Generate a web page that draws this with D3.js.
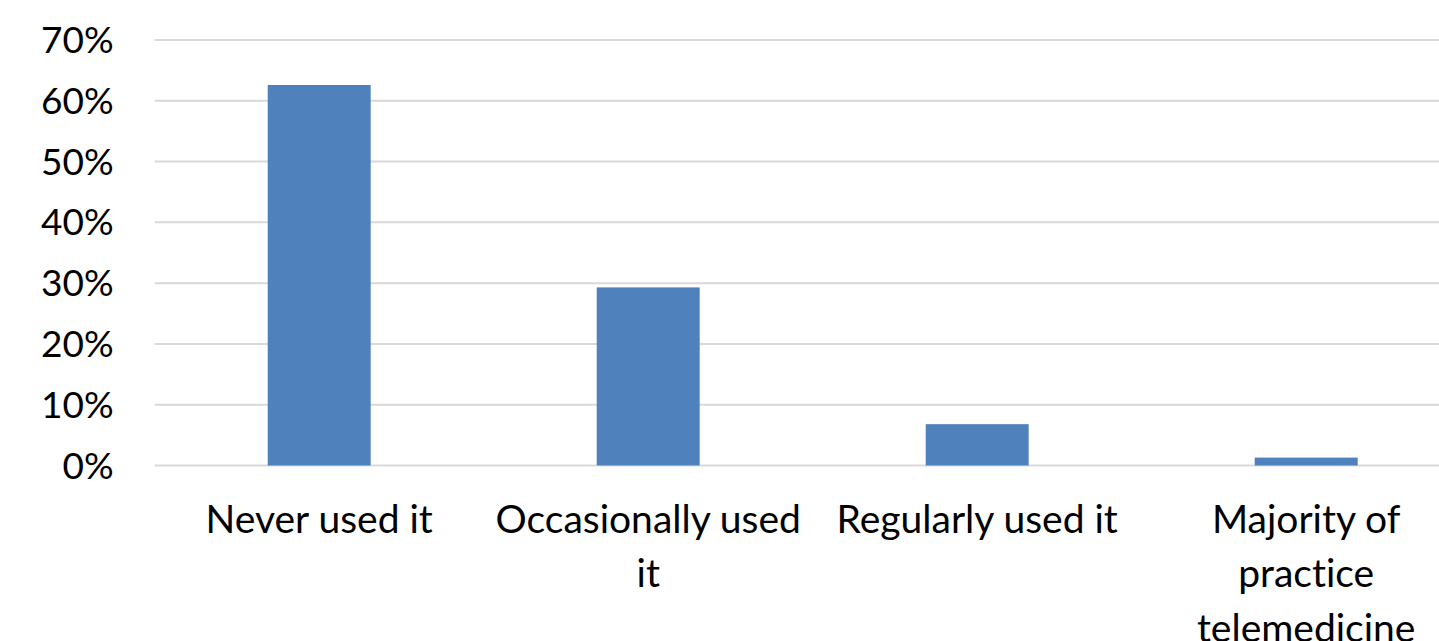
<!DOCTYPE html>
<html>
<head>
<meta charset="utf-8">
<script src="https://cdn.jsdelivr.net/npm/d3@7"></script>
<style>
  html, body { margin: 0; padding: 0; background: #fff; }
  svg text { font-family: Lato, "Open Sans", sans-serif; fill: #000; font-variant-ligatures: none; }
</style>
</head>
<body>
<div id="chart"></div>
<script>
// data
const categories = ["Never used it", "Occasionally used it", "Regularly used it", "Majority of practice telemedicine"];
const shares = [0.626, 0.293, 0.068, 0.013];
const yTicks = [0, 0.1, 0.2, 0.3, 0.4, 0.5, 0.6, 0.7];

const width = 1439, height = 641;
const plotLeft = 154.7, step = 329;

const svg = d3.select("#chart")
  .append("svg")
  .attr("width", width)
  .attr("height", height);

const x = d3.scaleBand()
  .domain(categories)
  .range([plotLeft, plotLeft + step * categories.length])
  .paddingInner(0.687)
  .paddingOuter(0.3435);

const y = d3.scaleLinear()
  .domain([0, 0.7])
  .range([465.5, 40]);

// gridlines
svg.append("g")
  .selectAll("line")
  .data(yTicks)
  .join("line")
  .attr("x1", plotLeft)
  .attr("x2", plotLeft + step * categories.length)
  .attr("y1", d => y(d))
  .attr("y2", d => y(d))
  .attr("stroke", "#d9d9d9")
  .attr("stroke-width", 2);

// y axis labels
const yAxis = svg.append("g")
  .attr("transform", `translate(${plotLeft - 41},0)`)
  .call(d3.axisLeft(y).tickValues(yTicks).tickFormat(d3.format(".0%")).tickSize(0).tickPadding(0));
yAxis.select(".domain").remove();
yAxis.selectAll("text")
  .attr("font-size", "37px")
  .attr("font-family", "Lato, 'Open Sans', sans-serif")
  .attr("fill", "#000")
  .attr("dy", "0.34em");

// bars
svg.append("g")
  .selectAll("rect")
  .data(categories)
  .join("rect")
  .attr("x", d => x(d))
  .attr("y", (d, i) => y(shares[i]))
  .attr("width", x.bandwidth())
  .attr("height", (d, i) => y(0) - y(shares[i]))
  .attr("fill", "#4f81bd");

// category labels, wrapped to the band step
svg.append("g")
  .selectAll("text")
  .data(categories)
  .join("text")
  .attr("x", d => x(d) + x.bandwidth() / 2)
  .attr("y", 532.7)
  .attr("text-anchor", "middle")
  .attr("font-size", "39px")
  .each(function(d) {
    wrap(d3.select(this), d, step - 8);
  });

function wrap(text, label, maxWidth) {
  const words = label.split(/\s+/);
  const cx = text.attr("x");
  let line = [];
  let tspan = text.append("tspan").attr("x", cx).attr("dy", 0);
  words.forEach(w => {
    line.push(w);
    tspan.text(line.join(" "));
    if (tspan.node().getComputedTextLength() > maxWidth && line.length > 1) {
      line.pop();
      tspan.text(line.join(" "));
      line = [w];
      tspan = text.append("tspan").attr("x", cx).attr("dy", 54.5).text(w);
    }
  });
}
</script>
</body>
</html>
